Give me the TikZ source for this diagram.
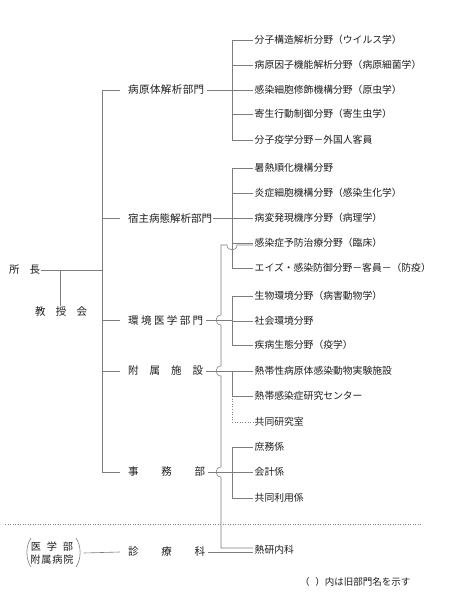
\documentclass[tikz,border=0pt]{standalone}
\usepackage{fontspec}
\setmainfont{Noto Sans CJK JP}
\definecolor{lc}{RGB}{125,125,125}
\definecolor{tc}{RGB}{30,30,30}
\begin{document}
\begin{tikzpicture}[x=1pt,y=-1pt,
  ln/.style={line width=0.6pt, draw=lc},
  leaf/.style={anchor=west, inner sep=1.5pt, text=tc, font=\fontsize{9.8}{11}\selectfont},
  dept/.style={anchor=west, inner sep=3pt, text=tc, font=\fontsize{10.5}{12}\selectfont},
  small/.style={anchor=west, inner sep=1pt, text=tc, font=\fontsize{9.5}{11}\selectfont}]
\useasboundingbox[fill=white] (0,0) rectangle (452,600);

% leaves
\node[leaf] (a1) at (253,40) {分子構造解析分野（ウイルス学）};
\node[leaf] (a2) at (253,65) {病原因子機能解析分野（病原細菌学）};
\node[leaf] (a3) at (253,90) {感染細胞修飾機構分野（原虫学）};
\node[leaf] (a4) at (253,114) {寄生行動制御分野（寄生虫学）};
\node[leaf] (a5) at (253,140) {分子疫学分野－外国人客員};
\node[leaf] (b1) at (253,168) {暑熱順化機構分野};
\node[leaf] (b2) at (253,193) {炎症細胞機構分野（感染生化学）};
\node[leaf] (b3) at (253,218) {病変発現機序分野（病理学）};
\node[leaf] (b4) at (253,243) {感染症予防治療分野（臨床）};
\node[leaf] (b5) at (253,268) {エイズ・感染防御分野－客員－（防疫）};
\node[leaf] (c1) at (253,296) {生物環境分野（病害動物学）};
\node[leaf] (c2) at (253,321) {社会環境分野};
\node[leaf] (c3) at (253,345) {疾病生態分野（疫学）};
\node[leaf] (e1) at (253,371) {熱帯性病原体感染動物実験施設};
\node[leaf] (e2) at (253,396) {熱帯感染症研究センター};
\node[leaf] (e3) at (253,422) {共同研究室};
\node[leaf] (f1) at (253,447) {庶務係};
\node[leaf] (f2) at (253,472) {会計係};
\node[leaf] (f3) at (253,498) {共同利用係};
\node[leaf] (t20) at (253,550) {熱研内科};

% departments
\node[dept] (d1) at (125,90) {\hbox to 76pt{病\hfill 原\hfill 体\hfill 解\hfill 析\hfill 部\hfill 門}};
\node[dept] (d2) at (125,218) {\hbox to 82pt{宿\hfill 主\hfill 病\hfill 態\hfill 解\hfill 析\hfill 部\hfill 門}};
\node[dept] (d3) at (125,320) {\hbox to 75pt{環\hfill 境\hfill 医\hfill 学\hfill 部\hfill 門}};
\node[dept] (d4) at (125,371) {\hbox to 75pt{附\hfill 属\hfill 施\hfill 設}};
\node[dept] (d5) at (125,472) {\hbox to 77pt{事\hfill 務\hfill 部}};
\node[dept] (d6) at (125,552) {\hbox to 77pt{診\hfill 療\hfill 科}};

% head
\node[dept, inner sep=1pt] (so) at (8,270) {\hbox to 31pt{所\hfill 長}};
\node[dept, inner sep=1pt] (kk) at (34,312) {\hbox to 52pt{教\hfill 授\hfill 会}};
\node[anchor=center, inner sep=0pt, text=tc, font=\fontsize{10.2}{13}\selectfont, align=center] (hosp) at (52,553)
  {\hbox to 42pt{医\hfill 学\hfill 部}\\\hbox to 43pt{附\hfill 属\hfill 病\hfill 院}};
\node[small] (note) at (299,582) {（\hspace{0.6em}）内は旧部門名を示す};

% coordinates
\coordinate (m1) at (102,90);
\coordinate (m5) at (102,472);
\coordinate (hd) at (102,270);
\coordinate (kj) at (60,270);
\coordinate (sepL) at (5,524);
\coordinate (sepR) at (421,524);

% head connectors
\draw[ln] (so.east) -- (hd);
\draw[ln] (kj) -- (kk.north -| kj);
\draw[ln] (m1) -- (m5);
\foreach \d in {d1,d2,d3,d4,d5} {
  \draw[ln] (\d.west -| m1) -- ([xshift=-5pt]\d.west);
}

% group 1
\draw[ln] (a1.west) -- (232,40) |- (a5.west);
\foreach \n in {a2,a3,a4} { \draw[ln] (232,0 |- \n.west) -- (\n.west); }
\draw[ln] (d1.east) -- (232,90);
% group 2
\draw[ln] (b1.west) -- (232,168) |- (b5.west);
\foreach \n in {b2,b3,b4} { \draw[ln] (232,0 |- \n.west) -- (\n.west); }
\draw[ln] (d2.east) -- (232,218);
% group 3
\draw[ln] (c1.west) -- (232,296) |- (c3.west);
\draw[ln] (232,321) -- (c2.west);
\draw[ln] (d3.east) -- (232,320);
% group 4
\draw[ln] (d4.east) -- (e1.west);
\draw[ln] (232,371) |- (e2.west);
\draw[ln, dotted] (232,396) |- (e3.west);
% group 5
\draw[ln] (f1.west) -- (232,447) |- (f3.west);
\draw[ln] (d5.east) -- (f2.west);

% hop line
\draw[ln] ([yshift=2pt]t20.west) -- (221,548) -- (221,477)
  .. controls (214.5,477) and (214.5,467) .. (221,467) -- (221,376)
  .. controls (214.5,376) and (214.5,366) .. (221,366) -- (221,325)
  .. controls (214.5,325) and (214.5,315) .. (221,315) -- (221,245) -- (227,245)
  .. controls (227,251.5) and (237,251.5) .. (237,245) -- ([yshift=-2pt]b4.west);

% separator
\draw[lc, dotted, line width=0.5pt] (sepL) -- (sepR);

% hospital
\draw[ln] (31,538) .. controls (25.5,546) and (25.5,559) .. (31,567);
\draw[ln] (76,538) .. controls (81.5,546) and (81.5,559) .. (76,567);
\draw[ln] ([xshift=10pt]hosp.east) -- ([xshift=-5pt]d6.west);
\draw[ln] (d6.east) -- ([yshift=-2pt]t20.west);
\end{tikzpicture}
\end{document}
